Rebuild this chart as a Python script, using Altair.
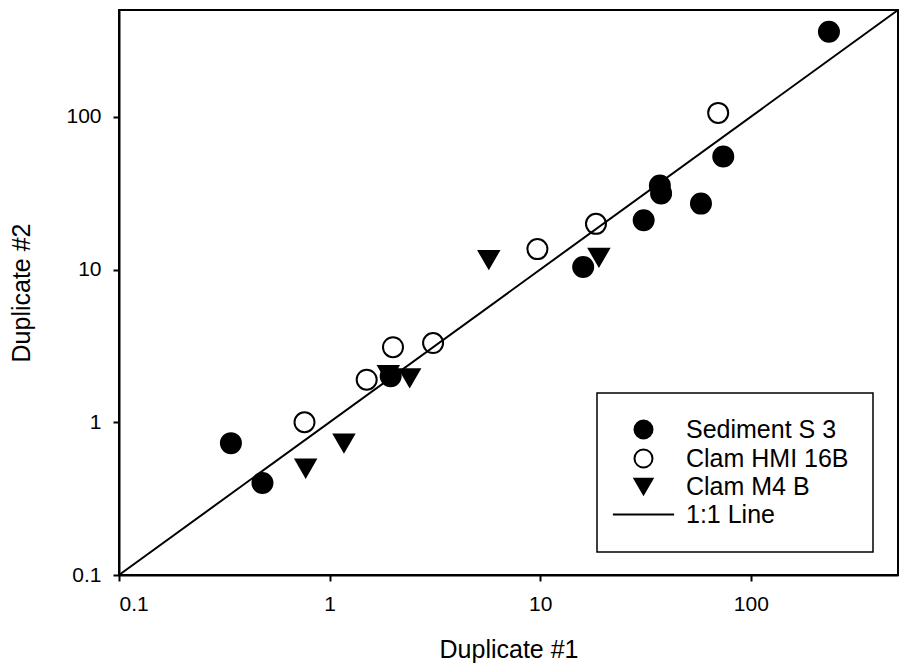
import altair as alt
import pandas as pd

# ---- data ----
series_names = ["Sediment S 3", "Clam HMI 16B", "Clam M4 B", "1:1 Line"]

sed_x = [0.34, 0.48, 1.95, 16, 31, 37, 37.5, 58, 74, 235]
sed_y = [0.73, 0.40, 2.0, 10.4, 21, 35.5, 31.5, 27, 55, 360]

hmi_x = [0.76, 1.5, 2.0, 3.1, 9.7, 18.4, 70]
hmi_y = [1.0, 1.9, 3.1, 3.3, 13.6, 19.9, 106]

m4_x = [0.77, 1.17, 1.9, 2.4, 5.7, 19]
m4_y = [0.50, 0.73, 2.05, 1.95, 11.6, 12]

line_x = [0.1, 500]
line_y = [0.1, 500]

tick_values = [0.1, 1, 10, 100]

rows = []
for name, xs, ys in [(series_names[0], sed_x, sed_y),
                     (series_names[1], hmi_x, hmi_y),
                     (series_names[2], m4_x, m4_y)]:
    for a, b in zip(xs, ys):
        rows.append({"x": a, "y": b, "series": name})
points = pd.DataFrame(rows)
line_df = pd.DataFrame({"x": line_x, "y": line_y})

FONT = "Liberation Sans"

xscale = alt.Scale(type="log", domain=[0.1, 500], nice=False)
yscale = alt.Scale(type="log", domain=[0.1, 500], nice=False)

x_axis = alt.Axis(values=tick_values, format="~g", title="Duplicate #1", grid=False,
                  tickSize=6, tickWidth=2, tickColor="black", domainWidth=2,
                  domainColor="black", labelFontSize=21, labelColor="black",
                  labelPadding=12, labelFont=FONT, titleFont=FONT, titleFontSize=25,
                  titleFontWeight="normal", titleColor="black", titleBaseline="middle",
                  titleY=74)
y_axis = alt.Axis(values=tick_values, format="~g", title="Duplicate #2", grid=False,
                  tickSize=6, tickWidth=2, tickColor="black", domainWidth=2,
                  domainColor="black", labelFontSize=21, labelColor="black",
                  labelPadding=12, labelFont=FONT, titleFont=FONT, titleFontSize=25,
                  titleFontWeight="normal", titleColor="black", titleBaseline="middle",
                  titleX=-98)

legend = alt.Legend(title=None, orient="none", legendX=478, legendY=383,
                    strokeColor="black", fillColor="white", padding=24,
                    symbolOffset=10, labelOffset=30, rowPadding=2,
                    labelFontSize=25, labelFont=FONT, labelColor="black",
                    symbolSize=324, symbolStrokeColor="black", symbolStrokeWidth=2,
                    labelLimit=400)

pts = alt.Chart(points).mark_point(filled=True, size=400, strokeWidth=2, opacity=1).encode(
    x=alt.X("x:Q", scale=xscale, axis=x_axis),
    y=alt.Y("y:Q", scale=yscale, axis=y_axis),
    shape=alt.Shape("series:N", scale=alt.Scale(
        domain=series_names,
        range=["circle", "circle", "triangle-down", "M-3.4,0L3.4,0"]), legend=legend),
    fill=alt.Fill("series:N", scale=alt.Scale(
        domain=series_names, range=["black", "white", "black", "black"]), legend=legend),
    stroke=alt.Stroke("series:N", scale=alt.Scale(
        domain=series_names, range=["black", "black", "black", "black"]), legend=legend),
)

line = alt.Chart(line_df).mark_line(color="black", strokeWidth=2).encode(
    x=alt.X("x:Q", scale=xscale),
    y=alt.Y("y:Q", scale=yscale),
)

chart = alt.layer(pts, line).properties(
    width=779, height=565,
    autosize=alt.AutoSizeParams(type="none"),
    padding={"left": 111, "top": 2, "right": 1, "bottom": 88},
).configure_view(stroke="black", strokeWidth=2).configure_legend(
    strokeWidth=1.5, cornerRadius=0
)

chart.save("out.html", embed_options={"renderer": "svg", "actions": False})
